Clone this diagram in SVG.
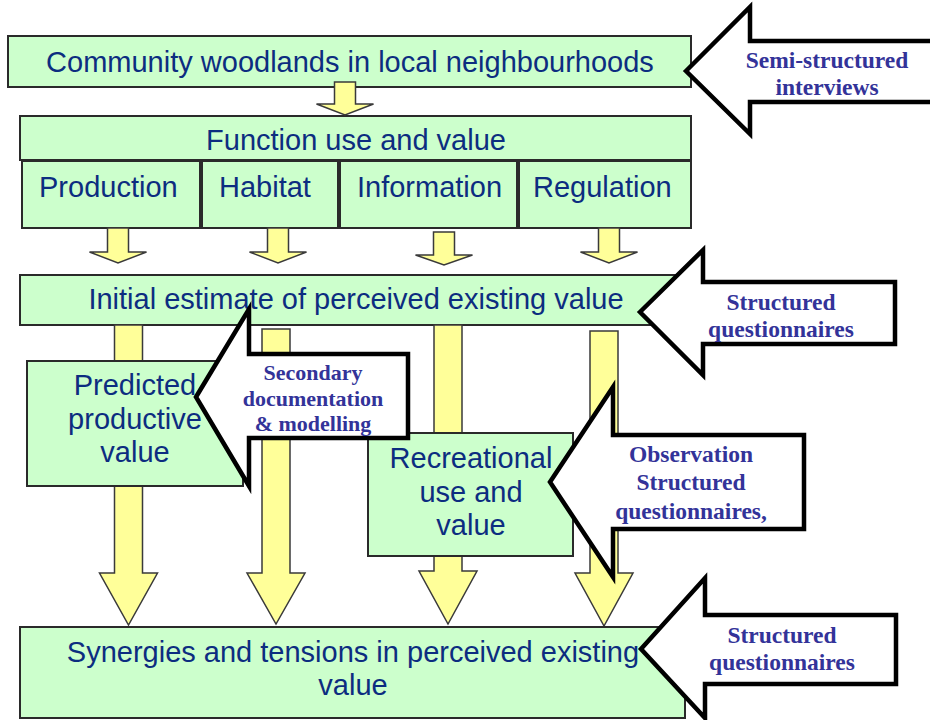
<svg xmlns="http://www.w3.org/2000/svg" width="930" height="720" viewBox="0 0 930 720">
  <style>
    .box { fill: #ccffcc; stroke: #2a2a2a; stroke-width: 2; }
    .flow { fill: #ffff99; stroke: #3a3a3a; stroke-width: 1.5; stroke-linejoin: miter; }
    .method { fill: #ffffff; stroke: #000000; stroke-width: 4.5; stroke-linejoin: miter; }
    .lbl { font-family: "Liberation Sans", Arial, sans-serif; font-size: 29px; fill: #0c2d80; }
    .mid { text-anchor: middle; }
    .mtxt { font-family: "Liberation Serif", "Times New Roman", serif; font-weight: bold; font-size: 23.5px; fill: #333399; text-anchor: middle; }
  </style>

  <rect width="930" height="720" fill="#ffffff"/>

  <!-- Community woodlands -->
  <g id="woodlands">
    <rect class="box" x="8" y="36" width="683" height="51"/>
    <text class="lbl mid" x="350" y="72">Community woodlands in local neighbourhoods</text>
  </g>

  <!-- Function use and value, split into four functions -->
  <g id="functions">
    <rect class="box" x="20" y="116" width="671" height="44"/>
    <text class="lbl mid" x="356" y="150">Function use and value</text>
  </g>
  <g id="production">
    <rect class="box" x="22" y="161" width="178" height="67"/>
    <text class="lbl" x="39" y="197">Production</text>
  </g>
  <g id="habitat">
    <rect class="box" x="202" y="161" width="136" height="67"/>
    <text class="lbl" x="219" y="197">Habitat</text>
  </g>
  <g id="information">
    <rect class="box" x="340" y="161" width="177" height="67"/>
    <text class="lbl" x="357" y="197">Information</text>
  </g>
  <g id="regulation">
    <rect class="box" x="519" y="161" width="172" height="67"/>
    <text class="lbl" x="533" y="197">Regulation</text>
  </g>

  <!-- Initial estimate -->
  <g id="initial-estimate">
    <rect class="box" x="20" y="275" width="671" height="50"/>
    <text class="lbl mid" x="356" y="309">Initial estimate of perceived existing value</text>
  </g>

  <!-- Block arrows between stages -->
  <g id="connectors">
    <path class="flow" d="M334.5,82 H355.5 V104 H373.5 L345,115 L316.5,104 H334.5 Z"/>
    <path class="flow" d="M107.5,228 H128.5 V252 H146.5 L118,263 L89.5,252 H107.5 Z"/>
    <path class="flow" d="M267.5,228 H288.5 V252 H306.5 L278,263 L249.5,252 H267.5 Z"/>
    <path class="flow" d="M433.5,232 H454.5 V255 H472.5 L444,265 L415.5,255 H433.5 Z"/>
    <path class="flow" d="M598.5,228 H619.5 V252 H637.5 L609,263 L580.5,252 H598.5 Z"/>

    <path class="flow" d="M114.5,325 H142.5 V573 H157.5 L128.5,625 L99.5,573 H114.5 Z"/>
    <path class="flow" d="M262,329 H290 V573 H305 L276,624 L247,573 H262 Z"/>
    <path class="flow" d="M434,325 H462 V571 H477 L448,624 L419,571 H434 Z"/>
    <path class="flow" d="M590,331 H618 V573 H633 L604,626 L575,573 H590 Z"/>
  </g>

  <!-- Predicted productive value -->
  <g id="predicted">
    <rect class="box" x="27" y="361" width="216" height="125"/>
    <text class="lbl mid" x="135" y="395">Predicted</text>
    <text class="lbl mid" x="135" y="429">productive</text>
    <text class="lbl mid" x="135" y="462">value</text>
  </g>

  <!-- Recreational use and value -->
  <g id="recreational">
    <rect class="box" x="368" y="433" width="205" height="123"/>
    <text class="lbl mid" x="471" y="468">Recreational</text>
    <text class="lbl mid" x="471" y="502">use and</text>
    <text class="lbl mid" x="471" y="535">value</text>
  </g>

  <!-- Synergies and tensions -->
  <g id="synergies">
    <rect class="box" x="20" y="627" width="665" height="91"/>
    <text class="lbl mid" x="353" y="662">Synergies and tensions in perceived existing</text>
    <text class="lbl mid" x="353" y="695">value</text>
  </g>

  <!-- Research methods feeding each stage -->
  <g id="method-interviews">
    <path class="method" d="M686,71 L750,7 V41 H940 V102 H750 V134 Z"/>
    <text class="mtxt" x="827" y="68">Semi-structured</text>
    <text class="mtxt" x="827" y="95">interviews</text>
  </g>

  <g id="method-questionnaires-1">
    <path class="method" d="M640,312 L703,250 V282 H895 V344 H703 V375 Z"/>
    <text class="mtxt" x="781" y="310">Structured</text>
    <text class="mtxt" x="781" y="337">questionnaires</text>
  </g>

  <g id="method-secondary">
    <path class="method" d="M196,397 L249,309 V354 H408 V438 H249 V486 Z"/>
    <text class="mtxt" x="313" y="380" style="font-size:22px">Secondary</text>
    <text class="mtxt" x="313" y="406" style="font-size:22px">documentation</text>
    <text class="mtxt" x="313" y="431" style="font-size:22px">&amp; modelling</text>
  </g>

  <g id="method-observation">
    <path class="method" d="M550,482 L613,387 V435 H804 V529 H613 V577 Z"/>
    <text class="mtxt" x="691" y="462">Observation</text>
    <text class="mtxt" x="691" y="490">Structured</text>
    <text class="mtxt" x="691" y="519">questionnaires,</text>
  </g>

  <g id="method-questionnaires-2">
    <path class="method" d="M641,649 L705,578 V615 H896 V684 H705 V718 Z"/>
    <text class="mtxt" x="782" y="643">Structured</text>
    <text class="mtxt" x="782" y="670">questionnaires</text>
  </g>
</svg>
